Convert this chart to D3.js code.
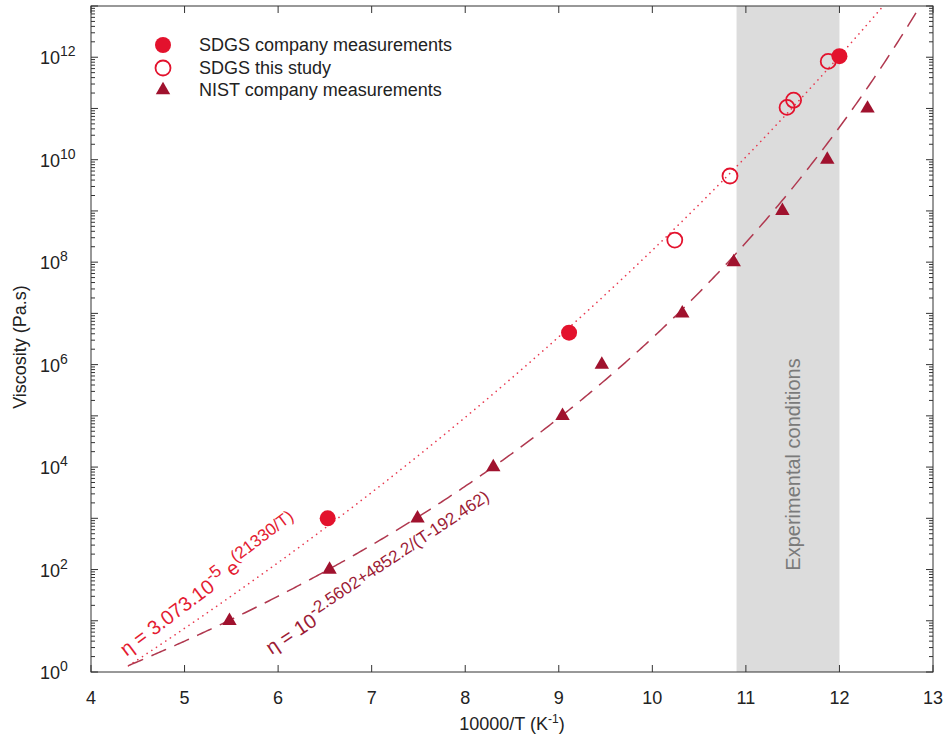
<!DOCTYPE html>
<html>
<head>
<meta charset="utf-8">
<script src="https://cdnjs.cloudflare.com/ajax/libs/d3/7.8.5/d3.min.js"></script>
<style>
  body { margin: 0; background: #fff; }
  svg { font-family: "Liberation Sans", Arial, sans-serif; }
</style>
</head>
<body>
<div id="chart"></div>
<script>
// data (x = 10000/T, y = viscosity in Pa.s)
const sdgsCompanyX = [6.53, 9.11, 12.0];
const sdgsCompanyY = [1.0e3, 4.2e6, 1.05e12];
const sdgsStudyX = [10.24, 10.83, 11.44, 11.51, 11.88];
const sdgsStudyY = [2.7e8, 4.8e9, 1.05e11, 1.45e11, 8.3e11];
const nistX = [5.48, 6.55, 7.49, 8.30, 9.04, 9.46, 10.32, 10.87, 11.39, 11.87, 12.30];
const nistY = [1e1, 1e2, 1e3, 1e4, 1e5, 1e6, 1e7, 1e8, 1e9, 1e10, 1e11];
const xTicks = [4, 5, 6, 7, 8, 9, 10, 11, 12, 13];
const yLabelExp = [0, 2, 4, 6, 8, 10, 12];
const band = [10.9, 12.0];
const legendLabels = ["SDGS company measurements", "SDGS this study", "NIST company measurements"];

// model curves (T in °C, axis in 10000/T with T in K)
const arrhenius = x => 3.073e-5 * Math.exp(21330 / (10000 / x - 273.15));
const vft = x => Math.pow(10, -2.5602 + 4852.2 / ((10000 / x - 273.15) - 192.462));

const red = "#e3122d", darkRed = "#a0122e";
const W = 947, H = 744;
const margin = { top: 6, right: 14, bottom: 72, left: 91 };

const svg = d3.select("#chart").append("svg")
    .attr("width", W).attr("height", H);

const x = d3.scaleLinear().domain([4, 13]).range([margin.left, W - margin.right]);
const y = d3.scaleLog().domain([1, 1e13]).range([H - margin.bottom, margin.top]);

// shaded experimental band
svg.append("rect")
    .attr("x", x(band[0])).attr("y", y(1e13))
    .attr("width", x(band[1]) - x(band[0]))
    .attr("height", y(1) - y(1e13))
    .attr("fill", "#dcdcdc");

svg.append("text")
    .attr("transform", `translate(${x(11.5) + 7},${y(Math.pow(10, 4.05))}) rotate(-90)`)
    .attr("text-anchor", "middle")
    .attr("font-size", 20)
    .attr("fill", "#7a7a7a")
    .text("Experimental conditions");

// curves
function sample(f, x0, x1) {
    const pts = [];
    for (let i = 0; i <= 400; i++) {
        const xv = x0 + (x1 - x0) * i / 400;
        const yv = f(xv);
        if (yv <= 1e13) pts.push([xv, yv]);
    }
    return pts;
}
const line = d3.line().x(d => x(d[0])).y(d => y(d[1]));

svg.append("path")
    .attr("d", line(sample(arrhenius, 4.4, 13)))
    .attr("fill", "none").attr("stroke", "#e8394f")
    .attr("stroke-width", 1.6).attr("stroke-linecap", "round")
    .attr("stroke-dasharray", "0.1,5.5");

svg.append("path")
    .attr("d", line(sample(vft, 4.4, 13)))
    .attr("fill", "none").attr("stroke", "#b0384f")
    .attr("stroke-width", 1.5)
    .attr("stroke-dasharray", "16,9");

// markers
const tri = d3.symbol().type(d3.symbolTriangle).size(90);
svg.append("g").selectAll("path")
    .data(nistX.map((v, i) => [v, nistY[i]]))
    .join("path")
    .attr("d", tri)
    .attr("transform", d => `translate(${x(d[0])},${y(d[1])})`)
    .attr("fill", darkRed);

svg.append("g").selectAll("circle")
    .data(sdgsStudyX.map((v, i) => [v, sdgsStudyY[i]]))
    .join("circle")
    .attr("cx", d => x(d[0])).attr("cy", d => y(d[1]))
    .attr("r", 7.5).attr("fill", "none")
    .attr("stroke", red).attr("stroke-width", 1.8);

svg.append("g").selectAll("circle")
    .data(sdgsCompanyX.map((v, i) => [v, sdgsCompanyY[i]]))
    .join("circle")
    .attr("cx", d => x(d[0])).attr("cy", d => y(d[1]))
    .attr("r", 8).attr("fill", red);

// frame and ticks (MATLAB style, ticks inside on all four sides)
const frame = svg.append("g").attr("stroke", "#333").attr("stroke-width", 1);
frame.append("rect")
    .attr("x", x(4)).attr("y", y(1e13))
    .attr("width", x(13) - x(4)).attr("height", y(1) - y(1e13))
    .attr("fill", "none");

xTicks.forEach(t => {
    frame.append("line").attr("x1", x(t)).attr("x2", x(t))
        .attr("y1", y(1)).attr("y2", y(1) - 7);
    frame.append("line").attr("x1", x(t)).attr("x2", x(t))
        .attr("y1", y(1e13)).attr("y2", y(1e13) + 7);
});

for (let e = 0; e <= 13; e++) {
    for (let m = 1; m <= 9; m++) {
        const v = m * Math.pow(10, e);
        if (v > 1e13) break;
        const len = m === 1 ? 7 : 4;
        frame.append("line").attr("x1", x(4)).attr("x2", x(4) + len)
            .attr("y1", y(v)).attr("y2", y(v));
        frame.append("line").attr("x1", x(13)).attr("x2", x(13) - len)
            .attr("y1", y(v)).attr("y2", y(v));
    }
}

// tick labels
svg.append("g").selectAll("text")
    .data(xTicks).join("text")
    .attr("x", d => x(d)).attr("y", y(1) + 32)
    .attr("text-anchor", "middle")
    .attr("font-size", 18).attr("fill", "#222")
    .text(d => d);

const yl = svg.append("g").selectAll("text")
    .data(yLabelExp).join("text")
    .attr("x", 40).attr("y", d => y(Math.pow(10, d)) + 7)
    .attr("font-size", 18).attr("fill", "#222");
yl.append("tspan").text("10");
yl.append("tspan").attr("dy", -8).attr("font-size", 14).text(d => d);

// axis titles
const xt = svg.append("text")
    .attr("x", (x(4) + x(13)) / 2).attr("y", H - 14)
    .attr("text-anchor", "middle").attr("font-size", 18).attr("fill", "#222");
xt.append("tspan").text("10000/T (K");
xt.append("tspan").attr("dy", -7).attr("font-size", 12).text("-1");
xt.append("tspan").attr("dy", 7).text(")");

svg.append("text")
    .attr("transform", `translate(26,${(y(1) + y(1e13)) / 2 + 8}) rotate(-90)`)
    .attr("text-anchor", "middle").attr("font-size", 18).attr("fill", "#222")
    .text("Viscosity (Pa.s)");

// legend
const lg = svg.append("g").attr("font-size", 18).attr("fill", "#222");
const ly = [45, 68, 90];
lg.append("circle").attr("cx", 163).attr("cy", ly[0]).attr("r", 8).attr("fill", red);
lg.append("circle").attr("cx", 163).attr("cy", ly[1]).attr("r", 7.5)
    .attr("fill", "none").attr("stroke", red).attr("stroke-width", 1.8);
lg.append("path").attr("d", tri).attr("transform", `translate(163,${ly[2]})`).attr("fill", darkRed);
legendLabels.forEach((t, i) => {
    lg.append("text").attr("x", 199).attr("y", ly[i] + 6).text(t);
});

// equations along the curves
const eq1 = svg.append("text")
    .attr("transform", `translate(${x(4.38)},${y(Math.pow(10, 0.3))}) rotate(-37)`)
    .attr("font-size", 20).attr("fill", "#e41b31");
eq1.append("tspan").text("η = 3.073.10");
eq1.append("tspan").attr("dy", -9).attr("font-size", 17).text("-5");
eq1.append("tspan").attr("dy", 9).text(" e");
eq1.append("tspan").attr("dy", -9).attr("font-size", 17).text("(21330/T)");

const eq2 = svg.append("text")
    .attr("transform", `translate(${x(5.93)},${y(Math.pow(10, 0.33))}) rotate(-33.5)`)
    .attr("font-size", 20).attr("fill", "#9c1b35");
eq2.append("tspan").text("η = 10");
eq2.append("tspan").attr("dy", -9).attr("font-size", 17).text("-2.5602+4852.2/(T-192.462)");
</script>
</body>
</html>
